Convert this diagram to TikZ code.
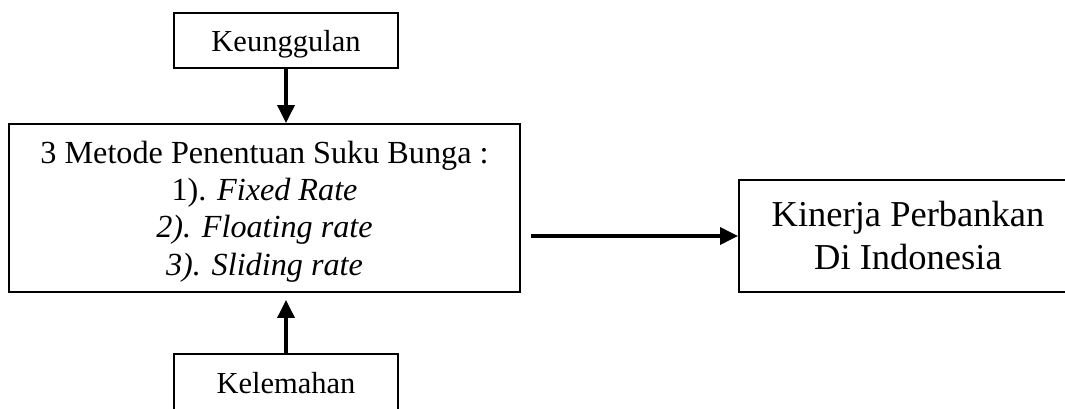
\documentclass[tikz,border=0pt]{standalone}
\usepackage{fontspec}
\setmainfont{Liberation Serif}
\usetikzlibrary{arrows.meta}
\begin{document}
\begin{tikzpicture}[x=1pt,y=-1pt,
  box/.style={draw, line width=1.8pt, inner sep=0pt},
  arr/.style={line width=3.2pt, -{Triangle[length=18pt,width=17pt]}},
  small/.style={font=\fontsize{30.5}{36}\selectfont}]
\useasboundingbox (0,0) rectangle (1065,409);
\node[box, minimum width=224pt, minimum height=55pt, small, text height=23pt, text depth=0pt] (k) at (286,40.4) {Keunggulan};
\node[box, minimum width=511pt, minimum height=168pt] (main) at (264.5,208) {};
\begin{scope}
\clip (0,0) rectangle (1065,282);
\node[align=center, font=\fontsize{32.2}{37.3}\selectfont] (mt) at (264.5,211.5) {3 Metode Penentuan Suku Bunga :\\ 1). \textit{Fixed Rate}\\ \textit{2). Floating rate}\\ \textit{3). Sliding rate}};
\end{scope}
\node[box, minimum width=338pt, minimum height=112pt, align=center, font=\fontsize{36.5}{43}\selectfont] (kin) at (908,236) {Kinerja Perbankan\\Di Indonesia};
\node[box, minimum width=224pt, minimum height=58pt, small, text height=19.6pt, text depth=0pt] (l) at (286,383.2) {Kelemahan};
\draw[arr] (k.south) -- (k.south |- main.north);
\draw[arr, shorten >=7pt] (l.north) -- (l.north |- main.south);
\draw[arr, shorten <=10pt] (main.east |- kin.west) -- (kin.west);
\end{tikzpicture}
\end{document}
